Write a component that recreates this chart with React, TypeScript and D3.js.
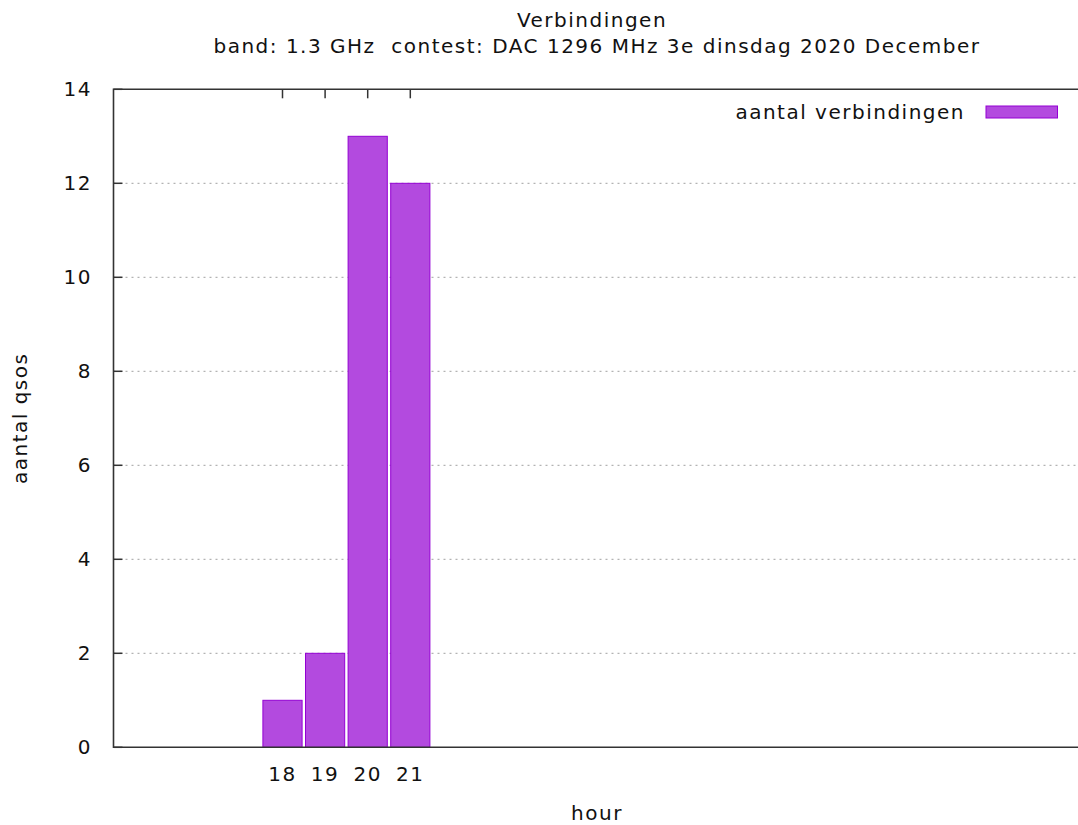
import * as d3 from "d3";

const W = 1078;
const H = 825;

// hours and number of QSOs per hour
const hours = [18, 19, 20, 21];
const qsos = [1, 2, 13, 12];
const yTicks = [0, 2, 4, 6, 8, 10, 12, 14];

const title = "Verbindingen";
const subtitle = "band: 1.3 GHz  contest: DAC 1296 MHz 3e dinsdag 2020 December";

const margin = { left: 113.5, top: 89.3, bottom: 747.3 };

// x axis: one hour ~ 42.6px, the right border falls outside the picture
const x = d3.scaleLinear().domain([18, 21]).range([282.5, 410.3]);
const xMax = 37;
const y = d3.scaleLinear().domain([0, 14]).range([margin.bottom, margin.top]);

const boxWidth = 0.92;
const font = "DejaVu Sans, sans-serif";
const textStyle = { fontFamily: font, fontSize: 20, letterSpacing: 1.5, fill: "#111" };

export default function App() {
  const right = x(xMax);
  return (
    <svg
      width={W}
      height={H}
      style={{ position: "absolute", left: 0, top: 0, background: "#fff" }}
    >
      {/* title */}
      <text x={592} y={27} textAnchor="middle" style={textStyle}>{title}</text>
      <text x={597} y={53} textAnchor="middle" style={textStyle} xmlSpace="preserve">{subtitle}</text>

      {/* grid */}
      {yTicks.filter((t) => t > 0 && t < 14).map((t) => (
        <line key={t} x1={margin.left} x2={right} y1={y(t)} y2={y(t)}
          stroke="#a0a0a0" strokeWidth={1} strokeDasharray="2,4" />
      ))}

      {/* y ticks + labels */}
      {yTicks.map((t) => (
        <g key={t}>
          <line x1={margin.left} x2={margin.left + 9} y1={y(t)} y2={y(t)} stroke="#333" strokeWidth={1.5} />
          <text x={92} y={y(t) + 7} textAnchor="end" style={textStyle}>{t}</text>
        </g>
      ))}

      {/* x ticks (top mirror + bottom) + labels */}
      {hours.map((h) => (
        <g key={h}>
          <line x1={x(h)} x2={x(h)} y1={margin.top} y2={margin.top + 9} stroke="#333" strokeWidth={1.5} />
          <line x1={x(h)} x2={x(h)} y1={margin.bottom} y2={margin.bottom - 9} stroke="#333" strokeWidth={1.5} />
          <text x={x(h)} y={780.5} textAnchor="middle" style={textStyle}>{h}</text>
        </g>
      ))}

      {/* bars */}
      {hours.map((h, i) => (
        <rect key={h}
          x={x(h - boxWidth / 2)}
          y={y(qsos[i])}
          width={x(h + boxWidth / 2) - x(h - boxWidth / 2)}
          height={y(0) - y(qsos[i])}
          fill="#b34adf" stroke="#9400d3" strokeWidth={1} />
      ))}

      {/* border */}
      <path d={`M${right},${margin.top}H${margin.left}V${margin.bottom}H${right}`}
        fill="none" stroke="#333" strokeWidth={1.6} />

      {/* axis labels */}
      <text x={597} y={820} textAnchor="middle" style={textStyle}>hour</text>
      <text transform={`translate(27,${(margin.top + margin.bottom) / 2}) rotate(-90)`}
        textAnchor="middle" style={textStyle}>aantal qsos</text>

      {/* legend */}
      <text x={965} y={119} textAnchor="end" style={textStyle}>aantal verbindingen</text>
      <rect x={986} y={106} width={71.5} height={12} fill="#b34adf" stroke="#9400d3" strokeWidth={1} />
    </svg>
  );
}
